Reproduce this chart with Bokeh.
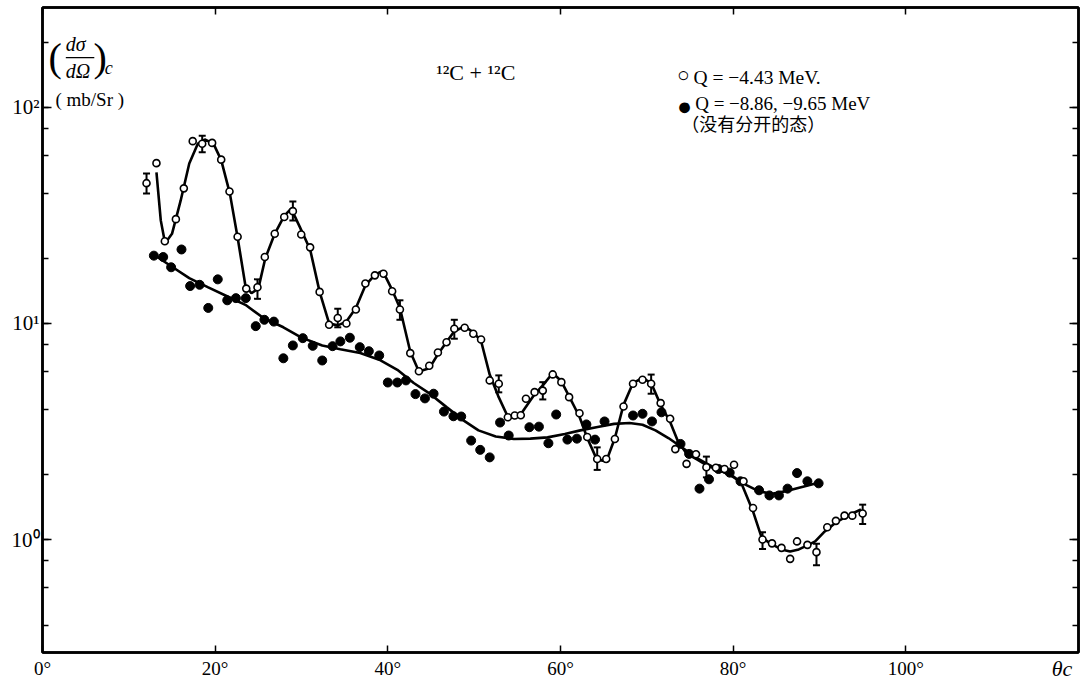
from bokeh.plotting import figure
from bokeh.models import (Label, FixedTicker, LogAxis, LinearAxis, Whisker,
                          ColumnDataSource, LogTicker)
from bokeh.embed import file_html
from bokeh.resources import INLINE

# ---- data ----
open_deg = [12.05, 13.2, 14.17, 15.45, 16.37, 17.4, 18.5, 19.65, 20.7, 21.66, 22.6, 23.6, 24.9,
            25.75, 26.9, 28.0, 29.0, 29.97, 31.0, 32.1, 33.2, 34.2, 35.2, 36.3, 37.4, 38.5, 39.5,
            40.5, 41.4, 42.6, 43.6, 44.8, 45.8, 46.8, 47.7, 48.9, 49.9, 50.8, 51.8, 52.85, 53.9,
            54.7, 55.4, 56.0, 57.0, 57.95, 59.1, 60.1, 61.0, 62.2, 63.1, 64.25, 65.3, 66.3, 67.3,
            68.4, 69.5, 70.5, 71.6, 72.7, 73.3, 74.6, 75.7, 76.9, 78.0, 79.0, 80.1, 81.2, 82.3,
            83.4, 84.5, 85.6, 86.6, 87.4, 88.6, 89.65, 90.9, 91.9, 92.9, 93.8, 95.0]
open_val = [44.6, 55.2, 24.0, 30.4, 42.2, 69.8, 67.9, 68.5, 57.3, 40.8, 25.2, 14.5, 14.7,
            20.3, 26.0, 31.1, 33.1, 25.8, 22.5, 14.0, 9.86, 10.6, 10.0, 11.6, 15.3, 16.7, 17.0,
            14.1, 11.6, 7.29, 6.01, 6.37, 7.34, 8.19, 9.45, 9.55, 8.96, 8.43, 5.45, 5.26, 3.68,
            3.75, 3.76, 4.48, 4.81, 4.89, 5.81, 5.35, 4.56, 3.84, 2.98, 2.36, 2.36, 2.92, 4.13,
            5.26, 5.49, 5.26, 4.28, 3.62, 2.62, 2.24, 2.48, 2.16, 2.15, 2.12, 2.22, 1.86, 1.40,
            1.0, 0.96, 0.915, 0.814, 0.98, 0.945, 0.874, 1.14, 1.22, 1.29, 1.29, 1.32]

filled_deg = [12.9, 13.98, 14.9, 16.1, 17.1, 18.2, 19.2, 20.3, 21.4, 22.4, 23.55, 24.7, 25.7,
              26.8, 27.9, 29.0, 30.15, 31.3, 32.4, 33.6, 34.5, 35.6, 36.75, 37.8, 39.0, 40.0,
              41.1, 42.1, 43.2, 44.3, 45.3, 46.5, 47.6, 48.5, 49.65, 50.7, 51.8, 53.0, 54.0,
              56.4, 57.5, 58.6, 59.5, 60.8, 61.9, 63.0, 64.0, 65.1, 68.4, 69.5, 70.6, 71.7,
              73.9, 74.9, 76.1, 77.2, 78.3, 79.6, 80.85, 83.0, 84.2, 85.3, 86.3, 87.4, 88.6, 89.9]
filled_val = [20.6, 20.3, 18.2, 22.0, 14.9, 15.1, 11.8, 16.0, 12.8, 13.1, 13.1, 9.72, 10.4,
              10.2, 6.90, 7.91, 8.55, 7.88, 6.74, 7.85, 8.26, 8.59, 7.77, 7.44, 7.11, 5.33,
              5.33, 5.45, 4.71, 4.50, 4.73, 3.91, 3.72, 3.71, 2.87, 2.60, 2.40, 3.48, 3.03,
              3.31, 3.33, 2.79, 3.79, 2.90, 2.93, 3.41, 2.90, 3.52, 3.75, 3.82, 3.52, 3.88,
              2.77, 2.49, 1.72, 1.90, 2.12, 2.04, 1.86, 1.69, 1.60, 1.60, 1.72, 2.03, 1.86, 1.82]

err_deg = [12.05, 18.5, 24.9, 29.0, 34.2, 41.4, 47.7, 52.85, 57.95, 64.25, 70.5, 76.9, 83.4, 89.65, 95.0]
err_lo = [40.0, 62.0, 13.0, 30.0, 9.6, 10.4, 8.5, 4.8, 4.45, 2.10, 4.73, 1.94, 0.905, 0.76, 1.18]
err_hi = [49.5, 74.0, 16.0, 36.7, 11.7, 12.8, 10.4, 5.75, 5.35, 2.67, 5.8, 2.42, 1.08, 0.955, 1.45]

# fitted curve through the Q = -4.43 MeV data
curve1_deg = [13.2, 13.7, 14.2, 15.0, 16.0, 17.0, 18.0, 18.8, 19.8, 20.7, 21.7, 22.6, 23.5, 24.2,
              25.0, 25.8, 26.9, 28.0, 28.8, 29.8, 31.0, 32.1, 33.2, 34.2, 35.2, 36.3, 37.4, 38.5,
              39.4, 40.5, 41.4, 42.6, 43.6, 44.8, 45.8, 46.8, 47.7, 48.9, 49.9, 50.8, 51.8, 52.8,
              53.9, 54.7, 55.5, 57.0, 58.0, 59.1, 60.1, 61.0, 62.2, 63.1, 64.2, 65.3, 66.3, 67.3,
              68.4, 69.5, 70.5, 71.6, 72.7, 73.6, 74.6, 75.8, 77.0, 78.0, 79.0, 80.1, 81.0, 82.3,
              83.3, 84.5, 85.6, 86.6, 87.6, 88.6, 89.5, 90.5, 91.9, 93.0, 94.0, 94.8]
curve1_val = [50, 30, 23.5, 26, 37, 55, 68, 71, 68, 57, 40, 25, 15, 13.8,
              14.5, 20, 26, 31.5, 34, 28, 22, 14, 10, 9.8, 10.2, 11.8, 15, 16.8,
              17.5, 14.3, 11.8, 7.4, 6.0, 6.2, 7.2, 8.2, 9.2, 9.7, 9.1, 8.3, 5.8, 4.6,
              3.7, 3.65, 3.85, 4.7, 5.2, 5.9, 5.4, 4.6, 3.7, 2.95, 2.35, 2.3, 2.95, 4.2,
              5.3, 5.6, 5.3, 4.2, 3.5, 2.85, 2.5, 2.35, 2.2, 2.12, 2.05, 1.95, 1.8, 1.35,
              1.02, 0.95, 0.9, 0.88, 0.9, 0.94, 0.98, 1.08, 1.2, 1.27, 1.33, 1.38]

# smooth curve through the Q = -8.86, -9.65 MeV data
curve2_deg = [12.9, 15, 17, 19.2, 21.5, 23.5, 25.6, 27.9, 30, 32.4, 34.5, 36.8, 39, 41.1, 43,
              44.9, 46.8, 48.8, 50.5, 52.5, 54.6, 56.5, 58.5, 60.5, 62.3, 64.3, 66.2, 68.0, 69.5,
              71, 72.5, 74, 75.8, 77.8, 79.7, 81.6, 83, 84.5, 86.3, 88.2, 90.1]
curve2_val = [20.8, 18.3, 16.2, 14.7, 13.3, 12.2, 10.6, 9.6, 8.6, 7.9, 7.6, 7.3, 6.8, 6.1, 5.3,
              4.72, 4.1, 3.55, 3.2, 3.0, 2.92, 2.93, 2.97, 3.08, 3.2, 3.32, 3.43, 3.46, 3.4,
              3.2, 2.95, 2.68, 2.38, 2.15, 1.98, 1.78, 1.67, 1.63, 1.68, 1.76, 1.84]

x_ticks = [0, 20, 40, 60, 80, 100]
x_tick_labels = ["0°", "20°", "40°", "60°", "80°", "100°"]
y_ticks = [1, 10, 100]
y_tick_labels = ["10⁰", "10¹", "10²"]
x_title = "θc"

SERIF = "Liberation Serif"
CJK = "Noto Sans CJK SC"

p = figure(width=1090, height=684, x_range=(0, 120), y_range=(0.3, 290),
           y_axis_type="log", output_backend="svg", toolbar_location=None,
           min_border_left=42, min_border_right=12, min_border_top=7, min_border_bottom=32)
p.grid.visible = False
p.outline_line_color = "black"
p.outline_line_width = 2.5
p.background_fill_color = "white"
p.border_fill_color = "white"

# bottom axis
xa = p.xaxis[0]
xa.major_tick_in = 7
xa.major_tick_out = 0
xa.minor_tick_line_color = None
xa.axis_line_width = 2.5
xa.major_tick_line_width = 1.5
xa.major_label_text_font = SERIF
xa.major_label_text_font_size = "19px"
xa.major_label_text_color = "black"
xa.major_label_standoff = 5
if "axis_label_align" in xa.properties():
    xa.ticker = FixedTicker(ticks=x_ticks)
    xa.major_label_overrides = {t: l for t, l in zip(x_ticks, x_tick_labels)}
    xa.axis_label = x_title + "\u00a0" * 6
    xa.axis_label_align = "end"
    xa.axis_label_text_font = SERIF
    xa.axis_label_text_font_style = "italic"
    xa.axis_label_text_font_size = "22px"
    xa.axis_label_text_color = "black"
    xa.axis_label_standoff = -26
else:
    xa.ticker = FixedTicker(ticks=x_ticks + [116.8])
    xa.major_label_overrides = dict({t: l for t, l in zip(x_ticks, x_tick_labels)},
                                    **{116.8: x_title})

# left axis
ya = p.yaxis[0]
ya.ticker = LogTicker()
ya.major_label_overrides = {t: l for t, l in zip(y_ticks, y_tick_labels)}
ya.major_tick_in = 9
ya.major_tick_out = 0
ya.minor_tick_in = 6
ya.minor_tick_out = 0
ya.axis_line_width = 2.5
ya.major_tick_line_width = 1.5
ya.minor_tick_line_width = 1.5
ya.major_label_text_font = SERIF
ya.major_label_text_font_size = "21px"
ya.major_label_text_color = "black"
ya.major_label_standoff = 3

# top & right axes (ticks only)
top = LinearAxis(ticker=FixedTicker(ticks=x_ticks), major_tick_in=7, major_tick_out=0,
                 minor_tick_line_color=None, major_label_text_font_size="1px",
                 major_label_text_color=None,
                 axis_line_width=2.5, major_tick_line_width=1.5, major_label_standoff=0)
p.add_layout(top, "above")
right = LogAxis(ticker=LogTicker(), major_tick_in=9, major_tick_out=0, minor_tick_in=6,
                minor_tick_out=0, major_label_text_font_size="1px", major_label_text_color=None,
                axis_line_width=2.5, major_tick_line_width=1.5, minor_tick_line_width=1.5,
                major_label_standoff=0)
p.add_layout(right, "right")

# curves
p.line(curve1_deg, curve1_val, line_color="black", line_width=2.6)
p.line(curve2_deg, curve2_val, line_color="black", line_width=2.6)

# error bars
src_err = ColumnDataSource(dict(x=err_deg, lo=err_lo, hi=err_hi))
w = Whisker(source=src_err, base="x", lower="lo", upper="hi", line_color="black", line_width=2)
w.upper_head.size = 7
w.lower_head.size = 7
w.upper_head.line_width = 2
w.lower_head.line_width = 2
p.add_layout(w)

# points
p.scatter(filled_deg, filled_val, size=9, fill_color="black", line_color="black")
p.scatter(open_deg, open_val, size=7, fill_color="white", line_color="black", line_width=1.6)

def lab(x, y, text, size, font=SERIF, style="normal", align="left", baseline="middle"):
    p.add_layout(Label(x=x, y=y, text=text, text_font=font,
                       text_font_size=size, text_font_style=style, text_align=align,
                       text_baseline=baseline, text_color="black"))

# y-axis title
lab(0.7, 170, "(", "40px")
lab(2.7, 196, "dσ", "20px", style="italic")
lab(2.7, 147, "dΩ", "20px", style="italic")
p.segment(x0=[2.7], y0=[170], x1=[6.0], y1=[170], line_color="black", line_width=1.3)
lab(5.9, 170, ")", "40px")
lab(7.2, 152, "c", "18px", style="italic")
lab(1.5, 109, "( mb/Sr )", "19px")

# reaction label
lab(45.6, 145, "¹²C + ¹²C", "22px")

# legend
lab(73.5, 142, "○", "21px")
lab(75.4, 137, "Q = −4.43 MeV.", "19.5px")
lab(73.5, 101, "●", "25px")
lab(75.6, 104, "Q = −8.86, −9.65 MeV", "19px")
lab(74.0, 85, "（没有分开的态）", "18px", font=CJK)

open("out.html", "w").write(file_html(p, INLINE))
